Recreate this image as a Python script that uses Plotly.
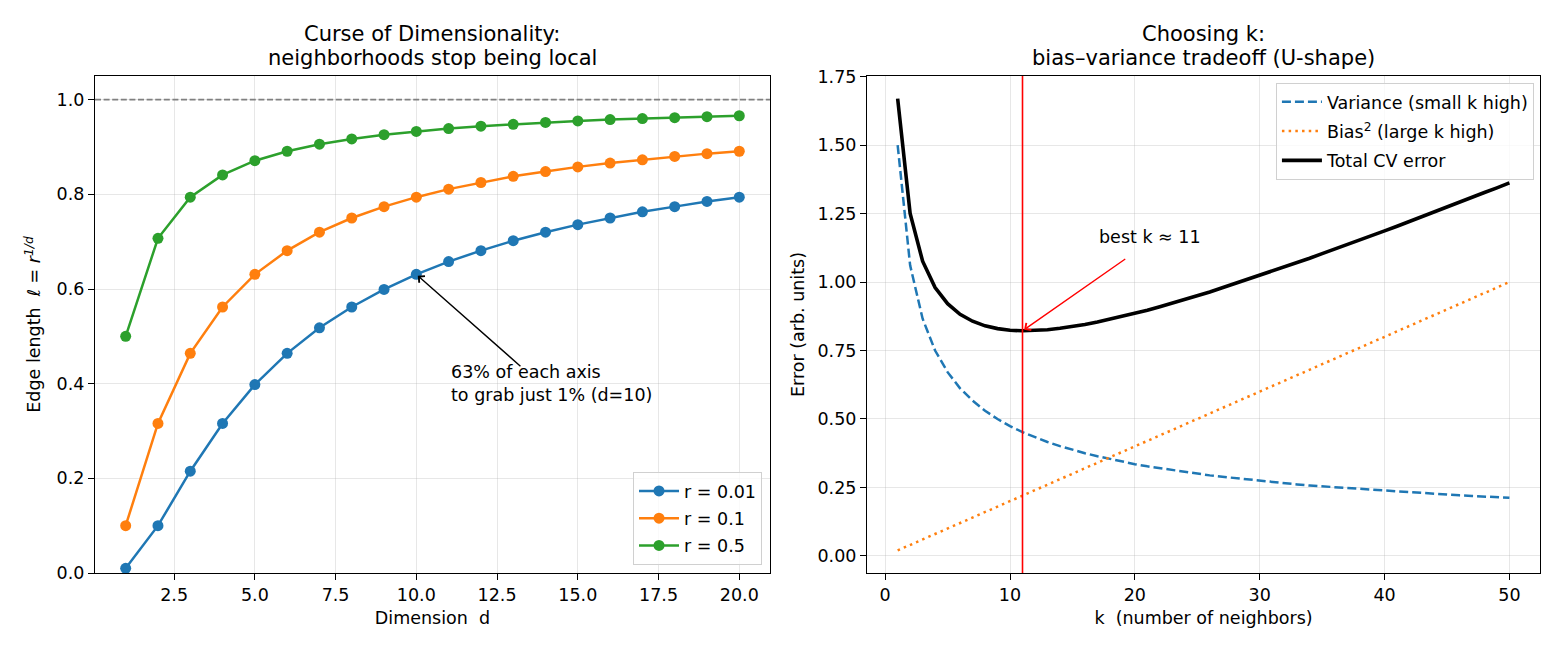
import plotly.graph_objects as go

# ---------------- data ----------------
dims = list(range(1, 21))
edge_r001 = [0.010, 0.100, 0.215, 0.316, 0.398, 0.464, 0.518, 0.562, 0.599, 0.631,
             0.658, 0.681, 0.702, 0.720, 0.736, 0.750, 0.763, 0.774, 0.785, 0.794]
edge_r01 = [0.100, 0.316, 0.464, 0.562, 0.631, 0.681, 0.720, 0.750, 0.774, 0.794,
            0.811, 0.825, 0.838, 0.848, 0.858, 0.866, 0.873, 0.880, 0.886, 0.891]
edge_r05 = [0.500, 0.707, 0.794, 0.841, 0.871, 0.891, 0.906, 0.917, 0.926, 0.933,
            0.939, 0.944, 0.948, 0.952, 0.955, 0.958, 0.960, 0.962, 0.964, 0.966]
r_labels = ["r = 0.01", "r = 0.1", "r = 0.5"]

k_vals = list(range(1, 51))
variance = [1.500, 1.061, 0.866, 0.750, 0.671, 0.612, 0.567, 0.530, 0.500, 0.474,
            0.452, 0.433, 0.416, 0.401, 0.387, 0.375, 0.364, 0.354, 0.344, 0.335,
            0.327, 0.320, 0.313, 0.306, 0.300, 0.294, 0.289, 0.284, 0.279, 0.274,
            0.269, 0.265, 0.261, 0.257, 0.254, 0.250, 0.247, 0.243, 0.240, 0.237,
            0.234, 0.232, 0.229, 0.226, 0.224, 0.221, 0.219, 0.217, 0.214, 0.212]
bias_sq = [0.02, 0.04, 0.06, 0.08, 0.10, 0.12, 0.14, 0.16, 0.18, 0.20,
           0.22, 0.24, 0.26, 0.28, 0.30, 0.32, 0.34, 0.36, 0.38, 0.40,
           0.42, 0.44, 0.46, 0.48, 0.50, 0.52, 0.54, 0.56, 0.58, 0.60,
           0.62, 0.64, 0.66, 0.68, 0.70, 0.72, 0.74, 0.76, 0.78, 0.80,
           0.82, 0.84, 0.86, 0.88, 0.90, 0.92, 0.94, 0.96, 0.98, 1.00]
total_err = [1.670, 1.251, 1.076, 0.980, 0.921, 0.882, 0.857, 0.840, 0.830, 0.824,
             0.822, 0.823, 0.826, 0.831, 0.837, 0.845, 0.854, 0.864, 0.874, 0.885,
             0.897, 0.910, 0.923, 0.936, 0.950, 0.964, 0.979, 0.994, 1.009, 1.024,
             1.039, 1.055, 1.071, 1.087, 1.104, 1.120, 1.137, 1.153, 1.170, 1.187,
             1.204, 1.222, 1.239, 1.256, 1.274, 1.291, 1.309, 1.327, 1.344, 1.362]
best_k = 11
best_err = 0.822

# ---------------- styling ----------------
FONT = "DejaVu Sans"
TICK = 17.5
TITLE = 21
C_BLUE, C_ORANGE, C_GREEN = "#1f77b4", "#ff7f0e", "#2ca02c"
GRID = "rgba(176,176,176,0.3)"

fig = go.Figure()

for i, (ys, col, name) in enumerate(zip([edge_r001, edge_r01, edge_r05], [C_BLUE, C_ORANGE, C_GREEN], r_labels)):
    fig.add_trace(go.Scatter(x=dims, y=ys, mode="lines+markers", name=name,
                             line=dict(color=col, width=2.5),
                             marker=dict(color=col, size=11),
                             legendgroup=f"l{i}",
                             xaxis="x", yaxis="y", legend="legend"))

fig.add_trace(go.Scatter(x=k_vals, y=variance, mode="lines", name="Variance (small k high)",
                         line=dict(color=C_BLUE, width=2.5, dash="9px,4px"), legendgroup="v",
                         xaxis="x2", yaxis="y2", legend="legend2"))
fig.add_trace(go.Scatter(x=k_vals, y=bias_sq, mode="lines", name="Bias<sup>2</sup> (large k high)",
                         line=dict(color=C_ORANGE, width=2.5, dash="2.5px,4.2px"), legendgroup="b",
                         xaxis="x2", yaxis="y2", legend="legend2"))
fig.add_trace(go.Scatter(x=k_vals, y=total_err, mode="lines", name="Total CV error",
                         line=dict(color="black", width=3.6), legendgroup="t",
                         xaxis="x2", yaxis="y2", legend="legend2"))

L_DOM = [0.0, 0.4671]
R_DOM = [0.5343, 1.0]

axis_common = dict(showline=True, mirror=True, linecolor="black", linewidth=1.3,
                   ticks="outside", ticklen=6, tickwidth=1.3, tickcolor="black",
                   showgrid=True, gridcolor=GRID, gridwidth=1.3, zeroline=False,
                   tickfont=dict(family=FONT, size=TICK, color="black"))

fig.update_layout(
    width=1560, height=650,
    margin=dict(l=95, r=20, t=76, b=77),
    paper_bgcolor="white", plot_bgcolor="white",
    font=dict(family=FONT, size=TICK, color="black"),
    xaxis=dict(domain=L_DOM, range=[0.05, 20.95], tick0=0, dtick=2.5, tickformat=".1f",
               title=dict(text="Dimension\u00a0\u00a0d", font=dict(size=TICK), standoff=7),
               anchor="y", **axis_common),
    yaxis=dict(domain=[0, 1], range=[0, 1.05], tick0=0, dtick=0.2, tickformat=".1f",
               title=dict(text="Edge length\u00a0\u00a0<i>ℓ</i> = <i>r</i><sup><i>1/d</i></sup>",
                          font=dict(size=TICK), standoff=11),
               anchor="x", **axis_common),
    xaxis2=dict(domain=R_DOM, range=[-1.45, 52.45], tick0=0, dtick=10,
                title=dict(text="k\u00a0\u00a0(number of neighbors)", font=dict(size=TICK), standoff=7),
                anchor="y2", **axis_common),
    yaxis2=dict(domain=[0, 1], range=[-0.0625, 1.7525], tick0=0, dtick=0.25, tickformat=".2f",
                title=dict(text="Error (arb. units)", font=dict(size=TICK), standoff=8),
                anchor="x2", **axis_common),
    legend=dict(x=0.4616, y=0.016, xanchor="right", yanchor="bottom",
                bgcolor="rgba(255,255,255,0.8)", bordercolor="#d0d0d0", borderwidth=1,
                font=dict(family=FONT, size=TICK), itemwidth=40, tracegroupgap=1.5,
                traceorder="grouped"),
    legend2=dict(x=0.9958, y=0.986, xanchor="right", yanchor="top",
                 bgcolor="rgba(255,255,255,0.8)", bordercolor="#d0d0d0", borderwidth=1,
                 font=dict(family=FONT, size=TICK), itemwidth=40, tracegroupgap=3.5,
                 traceorder="grouped"),
    showlegend=True,
)

# reference lines
fig.add_shape(type="line", xref="x domain", yref="y", x0=0, x1=1, y0=1.0, y1=1.0,
              line=dict(color="gray", width=1.6, dash="6px,2.6px"), layer="above")
fig.add_shape(type="line", xref="x2", yref="y2 domain", x0=best_k, x1=best_k, y0=0, y1=1,
              line=dict(color="red", width=1.6), layer="above")

# titles (each line placed separately for matplotlib-like line spacing)
titles = [("Curse of Dimensionality:", "neighborhoods stop being local", L_DOM),
          ("Choosing k:", "bias\u2013variance tradeoff (U-shape)", R_DOM)]
for line1, line2, dom in titles:
    xc = (dom[0] + dom[1]) / 2
    fig.add_annotation(text=line2, xref="paper", yref="paper", x=xc, y=1,
                       xanchor="center", yanchor="bottom", yshift=4, showarrow=False,
                       font=dict(family=FONT, size=TITLE, color="black"))
    fig.add_annotation(text=line1, xref="paper", yref="paper", x=xc, y=1,
                       xanchor="center", yanchor="bottom", yshift=28, showarrow=False,
                       font=dict(family=FONT, size=TITLE, color="black"))

# left annotation
fig.add_annotation(x=dims[9], y=edge_r001[9], ax=13.27, ay=0.434, xref="x", yref="y",
                   axref="x", ayref="y", text="", showarrow=True, arrowhead=4,
                   arrowsize=1.2, arrowwidth=1.4, arrowcolor="black", standoff=2)
fig.add_annotation(x=11, y=0.35, xref="x", yref="y", text="63% of each axis<br>to grab just 1% (d=10)",
                   showarrow=False, xanchor="left", yanchor="bottom", align="left",
                   font=dict(family=FONT, size=TICK, color="black"))

# right annotation
fig.add_annotation(x=best_k, y=best_err, ax=19.35, ay=1.088, xref="x2", yref="y2",
                   axref="x2", ayref="y2", text="", showarrow=True, arrowhead=4,
                   arrowsize=1.2, arrowwidth=1.4, arrowcolor="red", standoff=2)
fig.add_annotation(x=17, y=1.12, xref="x2", yref="y2", text="best k \u2248 11",
                   showarrow=False, xanchor="left", yanchor="bottom", align="left",
                   font=dict(family=FONT, size=TICK, color="black"))

fig.write_html("out.html")
